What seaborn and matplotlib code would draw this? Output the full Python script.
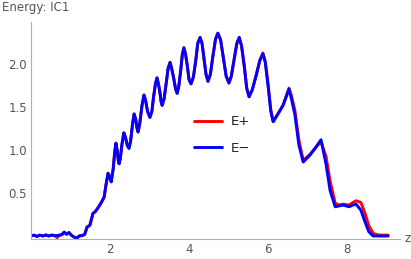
import numpy as np
import pandas as pd
import matplotlib
matplotlib.use('Agg')
import matplotlib.pyplot as plt
from matplotlib.ticker import MultipleLocator, FixedLocator
import seaborn as sns

# values
z = [0.00, 0.08, 0.15, 0.22, 0.30, 0.38, 0.45, 0.52, 0.60, 0.66, 0.72, 0.78, 0.84, 0.90, 0.96,
     1.02, 1.08, 1.16, 1.22, 1.30, 1.36, 1.42, 1.49, 1.57, 1.62, 1.70, 1.78, 1.85, 1.90, 1.95,
     1.99, 2.03, 2.08, 2.12, 2.15, 2.18, 2.21, 2.23, 2.26, 2.30, 2.35, 2.39, 2.44, 2.48, 2.52,
     2.57, 2.61, 2.65, 2.68, 2.71, 2.75, 2.81, 2.86, 2.90, 2.95, 3.01, 3.06, 3.10, 3.15, 3.19,
     3.23, 3.26, 3.29, 3.32, 3.37, 3.42, 3.47, 3.52, 3.56, 3.61, 3.66, 3.70, 3.74, 3.79, 3.83,
     3.87, 3.91, 3.96, 4.00, 4.05, 4.11, 4.17, 4.22, 4.28, 4.33, 4.38, 4.43, 4.48, 4.54, 4.60,
     4.67, 4.73, 4.80, 4.87, 4.94, 5.01, 5.07, 5.14, 5.21, 5.27, 5.33, 5.40, 5.46, 5.52, 5.60,
     5.70, 5.79, 5.87, 5.93, 6.00, 6.07, 6.13, 6.25, 6.38, 6.53, 6.60, 6.68, 6.78, 6.89, 7.06,
     7.19, 7.34, 7.47, 7.57, 7.70, 7.80, 7.90, 8.05, 8.15, 8.23, 8.35, 8.45, 8.55, 8.66, 8.80,
     9.04]

e_minus = [0.00, 0.01, -0.005, 0.01, 0.00, 0.012, 0.00, 0.01, 0.005, 0.005, 0.01, 0.015, 0.045, 0.02, 0.04,
           0.01, -0.01, -0.025, 0.00, 0.005, 0.02, 0.105, 0.125, 0.265, 0.28, 0.33, 0.39, 0.45, 0.60, 0.73,
           0.69, 0.63, 0.78, 0.98, 1.08, 1.00, 0.88, 0.84, 0.90, 1.06, 1.20, 1.15, 1.05, 1.02, 1.10,
           1.30, 1.42, 1.36, 1.26, 1.21, 1.30, 1.52, 1.64, 1.58, 1.45, 1.38, 1.45, 1.61, 1.77, 1.84,
           1.76, 1.68, 1.57, 1.52, 1.60, 1.77, 1.95, 2.02, 1.95, 1.84, 1.71, 1.66, 1.74, 1.93, 2.11,
           2.19, 2.12, 1.97, 1.82, 1.77, 1.85, 2.04, 2.24, 2.31, 2.24, 2.06, 1.88, 1.80, 1.88, 2.08,
           2.29, 2.36, 2.28, 2.07, 1.86, 1.78, 1.86, 2.05, 2.24, 2.31, 2.21, 1.97, 1.72, 1.62, 1.70,
           1.87, 2.04, 2.12, 2.02, 1.75, 1.45, 1.33, 1.42, 1.52, 1.71, 1.58, 1.41, 1.06, 0.86, 0.94,
           1.02, 1.12, 0.83, 0.53, 0.34, 0.35, 0.36, 0.34, 0.36, 0.37, 0.30, 0.17, 0.05, 0.00, 0.00,
           0.00]

e_plus = [0.00, 0.01, -0.005, 0.01, 0.00, 0.012, 0.00, 0.01, 0.005, -0.02, 0.01, 0.015, 0.045, 0.02, 0.04,
          0.01, -0.01, -0.025, 0.00, 0.005, 0.02, 0.105, 0.125, 0.265, 0.28, 0.33, 0.39, 0.45, 0.60, 0.73,
          0.69, 0.63, 0.78, 0.98, 1.08, 1.00, 0.88, 0.84, 0.90, 1.06, 1.20, 1.15, 1.05, 1.02, 1.10,
          1.30, 1.42, 1.36, 1.26, 1.21, 1.30, 1.52, 1.64, 1.58, 1.45, 1.38, 1.45, 1.61, 1.77, 1.84,
          1.76, 1.68, 1.57, 1.52, 1.60, 1.77, 1.95, 2.02, 1.95, 1.84, 1.71, 1.66, 1.74, 1.93, 2.11,
          2.19, 2.12, 1.97, 1.82, 1.77, 1.85, 2.04, 2.24, 2.31, 2.24, 2.06, 1.88, 1.80, 1.88, 2.08,
          2.29, 2.36, 2.28, 2.07, 1.86, 1.78, 1.86, 2.05, 2.24, 2.31, 2.21, 1.97, 1.72, 1.62, 1.70,
          1.87, 2.04, 2.13, 2.03, 1.77, 1.47, 1.33, 1.42, 1.52, 1.72, 1.62, 1.46, 1.12, 0.88, 0.95,
          1.02, 1.10, 0.92, 0.64, 0.38, 0.36, 0.37, 0.36, 0.39, 0.41, 0.39, 0.27, 0.12, 0.03, 0.01,
          0.01]

series_names = ['E+', 'E\u2212']
series_colors = ['#ff0000', '#0000ff']

df = pd.concat([
    pd.DataFrame({'z': z, 'E': e_plus, 'series': series_names[0]}),
    pd.DataFrame({'z': z, 'E': e_minus, 'series': series_names[1]}),
])

sns.set_style('white')
plt.rcParams['font.family'] = ['DejaVu Sans']

fig = plt.figure(figsize=(4.11, 2.59), dpi=100)
ax = fig.add_axes([31 / 411, 20 / 259, 369 / 411, 217 / 259])

sns.lineplot(data=df, x='z', y='E', hue='series', palette=dict(zip(series_names, series_colors)),
             sort=False, linewidth=2.1, ax=ax)

ax.set_xlim(0, 9.34)
ax.set_ylim(-0.035, 2.49)
ax.set_xlabel('')
ax.set_ylabel('')

axis_gray = '#b0b0b0'
text_gray = '#555555'
for side in ['top', 'right']:
    ax.spines[side].set_visible(False)
for side in ['left', 'bottom']:
    ax.spines[side].set_color(axis_gray)
    ax.spines[side].set_linewidth(0.8)

ax.xaxis.set_major_locator(FixedLocator([2, 4, 6, 8]))
ax.xaxis.set_minor_locator(MultipleLocator(0.5))
ax.yaxis.set_major_locator(FixedLocator([0.5, 1.0, 1.5, 2.0]))
ax.yaxis.set_minor_locator(MultipleLocator(0.1))
ax.yaxis.set_major_formatter(plt.FormatStrFormatter('%.1f'))
ax.tick_params(which='both', direction='in', color=axis_gray, labelcolor=text_gray, labelsize=8.5, width=0.7)
ax.tick_params(which='major', length=4, pad=3)
ax.tick_params(which='minor', length=2)

leg = ax.legend(loc='center left', bbox_to_anchor=(182 / 411, 1 - 135 / 259), bbox_transform=fig.transFigure,
                frameon=False, fontsize=9.5, handlelength=2.1, handletextpad=0.7, labelspacing=1.0)
for t in leg.get_texts():
    t.set_color('#222222')

fig.text(2 / 411, 1 - 8 / 259, 'Energy: IC1', color=text_gray, fontsize=8.5, va='center', ha='left')
fig.text(404 / 411, 1 - 239 / 259, 'z', color=text_gray, fontsize=8.5, va='center', ha='left')

fig.savefig('out.png', dpi=100)
